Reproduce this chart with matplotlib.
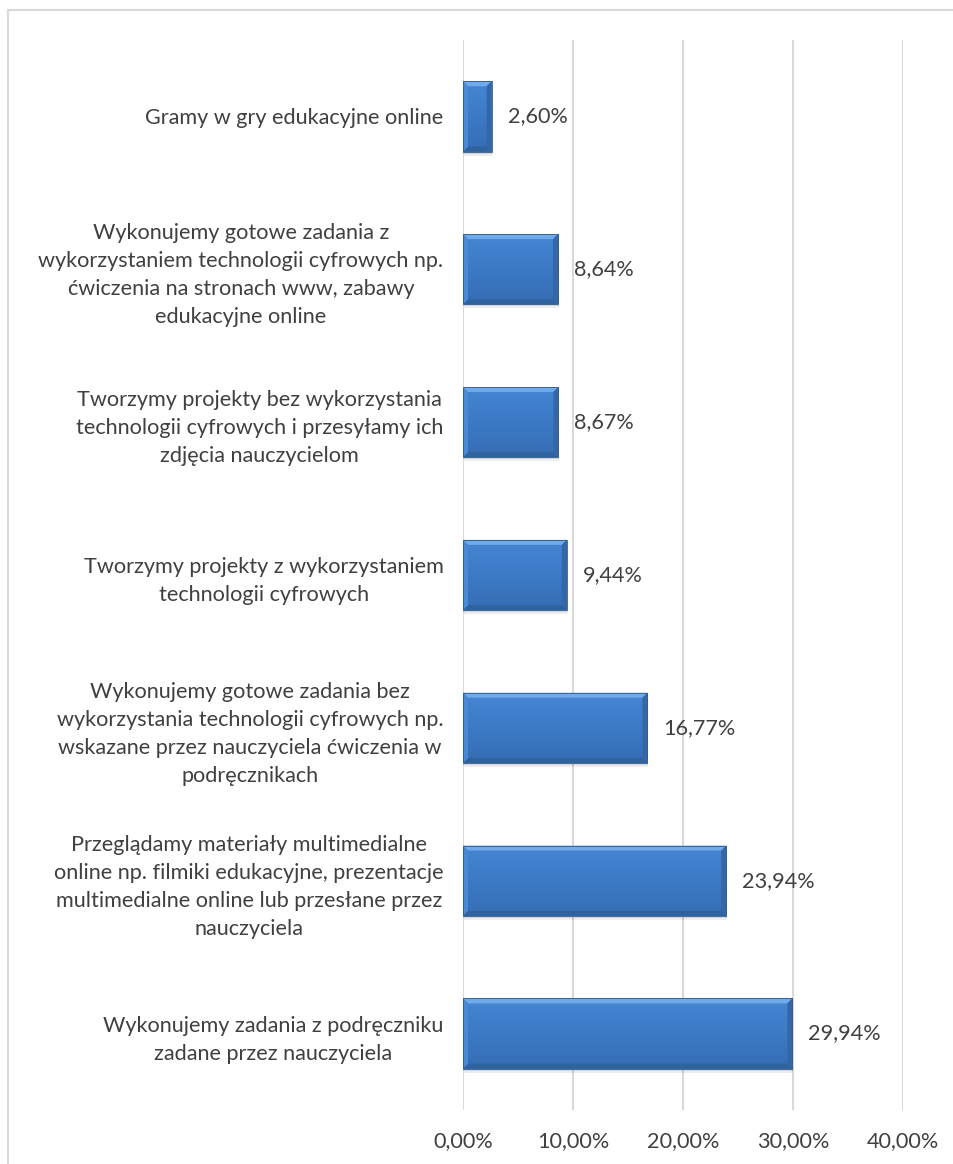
import numpy as np
import matplotlib.pyplot as plt
from matplotlib.patches import Polygon, Rectangle
from matplotlib.colors import LinearSegmentedColormap
from matplotlib.ticker import FuncFormatter

plt.rcParams['font.family'] = ['Lato', 'DejaVu Sans']

# data (top to bottom as in the chart)
categories = [
    "Gramy w gry edukacyjne online",
    "Wykonujemy gotowe zadania z\nwykorzystaniem technologii cyfrowych np.\nćwiczenia na stronach www, zabawy\nedukacyjne online",
    "Tworzymy projekty bez wykorzystania\ntechnologii cyfrowych i przesyłamy ich\nzdjęcia nauczycielom",
    "Tworzymy projekty z wykorzystaniem\ntechnologii cyfrowych",
    "Wykonujemy gotowe zadania bez\nwykorzystania technologii cyfrowych np.\nwskazane przez nauczyciela ćwiczenia w\npodręcznikach",
    "Przeglądamy materiały multimedialne\nonline np. filmiki edukacyjne, prezentacje\nmultimedialne online lub przesłane przez\nnauczyciela",
    "Wykonujemy zadania z podręczniku\nzadane przez nauczyciela",
]
values = [2.60, 8.64, 8.67, 9.44, 16.77, 23.94, 29.94]
x_ticks = [0, 10, 20, 30, 40]

W, H = 954, 1164
fig = plt.figure(figsize=(W / 100, H / 100), dpi=100)
ax = fig.add_axes([463 / W, 1 - 1110 / H, (903 - 463) / W, (1110 - 40) / H])

# chart area border
fig.add_artist(Rectangle((8 / W, -0.1), 1.2, 1 - 10 / H + 0.1, transform=fig.transFigure,
                         fill=False, edgecolor='#D9D9D9', linewidth=1.5))

text_col = '#404040'
fs = 15.6
ypos = np.arange(len(values))
bar_h = 0.46
bars = ax.barh(ypos, values, height=bar_h, color='#3F7ECB', edgecolor='none', zorder=3)

ax.set_xlim(0, 40)
ax.set_ylim(len(values) - 0.5, -0.5)

# px -> data scale
px_x = 40 / (903 - 463)
px_y = 7 / (1110 - 40)

grad = np.linspace(0, 1, 64).reshape(-1, 1)
cmap = LinearSegmentedColormap.from_list('bar', ['#4586D2', '#3F7ECB', '#3A76C0', '#356DB3'])

for b in bars:
    x0, y0 = b.get_x(), b.get_y()
    w, h = b.get_width(), b.get_height()
    # shadow
    ax.add_patch(Rectangle((x0 + 1 * px_x, y0 + 4 * px_y), w, h, facecolor='#000000',
                           alpha=0.07, edgecolor='none', zorder=2))
    ax.add_patch(Rectangle((x0 + 0.5 * px_x, y0 + 2 * px_y), w, h, facecolor='#000000',
                           alpha=0.10, edgecolor='none', zorder=2))
    im = ax.imshow(grad, extent=(x0, x0 + w, y0 + h, y0), aspect='auto', cmap=cmap,
                   zorder=3.5, interpolation='bicubic')
    im.set_clip_path(b)
    bx, by = 5 * px_x, 5 * px_y
    bx = min(bx, w / 2.2)
    x1, y1 = x0 + w, y0 + h
    # top bevel (light)
    ax.add_patch(Polygon([(x0, y0), (x1, y0), (x1 - bx, y0 + by), (x0 + bx, y0 + by)],
                         closed=True, facecolor='#6FAAEA', edgecolor='none', zorder=4))
    # bottom bevel (dark)
    ax.add_patch(Polygon([(x0, y1), (x1, y1), (x1 - bx, y1 - by), (x0 + bx, y1 - by)],
                         closed=True, facecolor='#30629E', edgecolor='none', zorder=4))
    # right bevel
    ax.add_patch(Polygon([(x1, y0), (x1, y1), (x1 - bx, y1 - by), (x1 - bx, y0 + by)],
                         closed=True, facecolor='#3567A6', edgecolor='none', zorder=4))
    # left bevel
    ax.add_patch(Polygon([(x0, y0), (x0, y1), (x0 + bx, y1 - by), (x0 + bx, y0 + by)],
                         closed=True, facecolor='#4A89D4', edgecolor='none', zorder=4))
    ax.add_patch(Rectangle((x0, y0), w, h, fill=False, edgecolor='#2F5B90',
                           linewidth=0.6, zorder=4.5))

for yv, v in zip(ypos, values):
    ax.annotate(f"{v:.2f}%".replace('.', ','), xy=(v, yv), xytext=(16, 0),
                textcoords='offset pixels', va='center', ha='left',
                fontsize=fs, color=text_col, zorder=5)

ax.set_yticks(ypos)
ax.set_yticklabels(categories, ha='right', multialignment='center',
                   fontsize=fs, color=text_col, linespacing=1.5)
ax.set_xticks(x_ticks)
ax.xaxis.set_major_formatter(FuncFormatter(lambda v, p: f"{v:.2f}%".replace('.', ',')))
ax.tick_params(axis='x', length=0, pad=15, labelsize=fs, labelcolor=text_col)
ax.tick_params(axis='y', length=0, pad=14)
ax.grid(axis='x', color='#D9D9D9', linewidth=1.5, zorder=0)
ax.set_axisbelow(True)
for s in ax.spines.values():
    s.set_visible(False)

fig.savefig('out.png', dpi=100)
